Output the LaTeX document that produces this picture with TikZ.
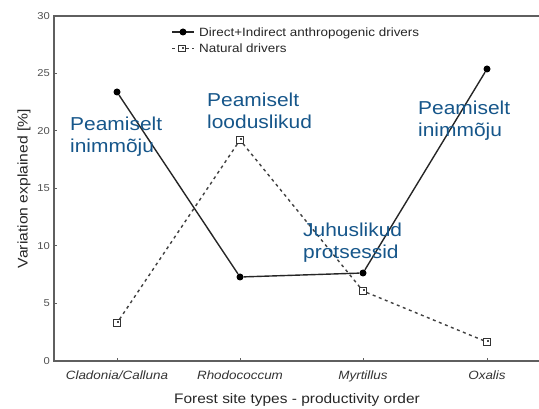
\documentclass[tikz,border=0pt]{standalone}
\usepackage{fontspec}
\setmainfont{Liberation Sans}[FakeStretch=1.12]
\definecolor{annotblue}{RGB}{22,86,138}
\definecolor{axisgray}{RGB}{95,95,95}
\definecolor{labelgray}{RGB}{80,80,80}
\begin{document}
\begin{tikzpicture}[x=1pt,y=-1pt,
  axis/.style={draw=axisgray, line width=1.3pt},
  tickline/.style={draw=axisgray, line width=1pt},
  solidline/.style={draw=black!85, line width=1.4pt},
  dashline/.style={draw=black!75, line width=1.4pt, dash pattern=on 3pt off 3.5pt},
  dotmark/.style={circle, fill=black, inner sep=0pt, minimum size=7pt},
  sqmark/.style={rectangle, draw=black!80, fill=white, line width=1pt, inner sep=0pt, minimum size=6.5pt,
    path picture={\fill[black!70] ([shift={(-0.3pt,-0.3pt)}]path picture bounding box.center) rectangle ([shift={(-1.6pt,-1.6pt)}]path picture bounding box.north east);}},
  annot/.style={text=annotblue, font=\fontsize{18.7}{21.5}\selectfont, align=left, anchor=base west, inner sep=0pt},
  ticklabel/.style={text=labelgray, font=\fontsize{10}{12}\selectfont, anchor=east, inner sep=0pt},
  catlabel/.style={text=black!80, font=\fontsize{12}{14}\selectfont\itshape, anchor=base, inner sep=0pt},
  legendtext/.style={text=black!85, font=\fontsize{12}{14}\selectfont, anchor=base west, inner sep=0pt},
  axistitle/.style={text=black!85, inner sep=0pt}
]
\useasboundingbox (0,0) rectangle (539,409);
% axes
\draw[axis] (539,16) -- (54,16) -- (54,361) -- (539,361);
\foreach \v in {0,5,...,30}{
  \draw[tickline] (54,{361-11.5*\v}) -- (57,{361-11.5*\v});
  \node[ticklabel] (yt\v) at (50,{361-11.5*\v}) {\v};
}
\foreach \xx/\nm in {117/a,240/b,363/c,487/d}{
  \draw[tickline] (\xx,361) -- (\xx,358);
}
\node[axistitle, rotate=90, anchor=base, font=\fontsize{14}{16}\selectfont] (ylab) at (27.5,188.5) {Variation explained [\%]};
\node[axistitle, anchor=base, font=\fontsize{13.8}{16}\selectfont] (xlab) at (297,403) {Forest site types - productivity order};
% categories
\node[catlabel] (k1) at (117,379) {Cladonia/Calluna};
\node[catlabel] (k2) at (240,379) {Rhodococcum};
\node[catlabel] (k3) at (363,379) {Myrtillus};
\node[catlabel] (k4) at (487,379) {Oxalis};
% data: natural drivers
\node[sqmark] (n1) at (117,323) {};
\node[sqmark] (n2) at (240,140) {};
\node[sqmark] (n3) at (363,291) {};
\node[sqmark] (n4) at (487,342) {};
\draw[dashline] (n1) -- (n2) -- (n3) -- (n4);
% data: anthropogenic drivers
\node[dotmark] (c1) at (117,92) {};
\node[dotmark] (c2) at (240,277) {};
\node[dotmark] (c3) at (363,273) {};
\node[dotmark] (c4) at (487,69) {};
\draw[solidline] (c1) -- (c2) -- (c3) -- (c4);
% legend
\coordinate (la1) at (172,32);
\coordinate (lb1) at (194,32);
\draw[solidline] (la1) -- (lb1);
\node[dotmark] (ld) at (183,32) {};
\node[legendtext] (lt1) at (199,36.3) {Direct+Indirect anthropogenic drivers};
\coordinate (la2) at (172,48.5);
\coordinate (lb2) at (194,48.5);
\node[sqmark] (ls) at (182,48.5) {};
\draw[dashline] (la2) -- (ls) -- (lb2);
\node[legendtext] (lt2) at (199,52.8) {Natural drivers};
% annotations (anchor = baseline of the last line)
\node[annot] (a1) at (70,152.5) {Peamiselt\\inimmõju};
\node[annot] (a2) at (207,128.5) {Peamiselt\\looduslikud};
\node[annot] (a3) at (418,136.5) {Peamiselt\\inimmõju};
\node[annot] (a4) at (303,258.5) {Juhuslikud\\protsessid};
\end{tikzpicture}
\end{document}
